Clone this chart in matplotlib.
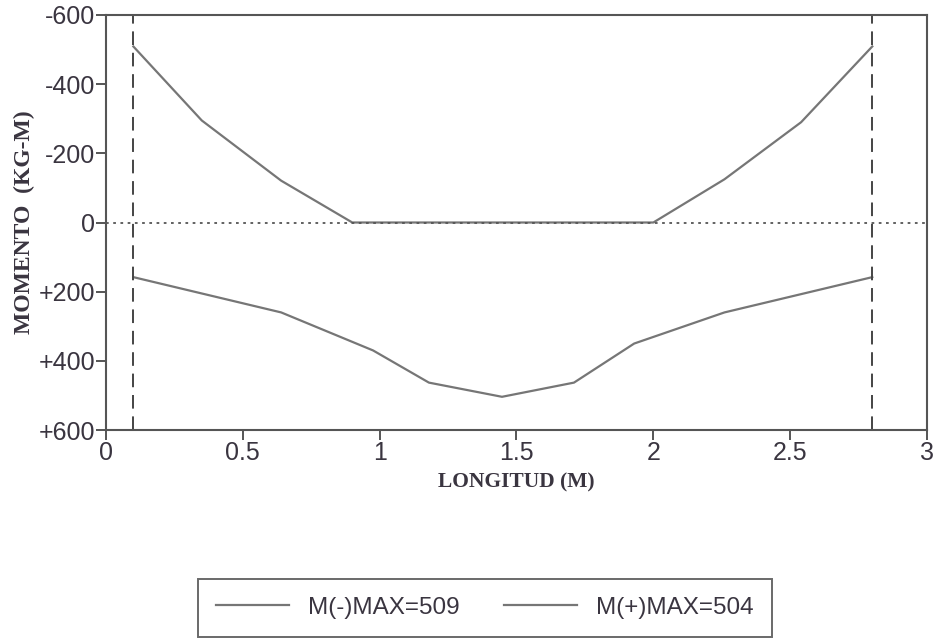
import matplotlib.pyplot as plt
from matplotlib.lines import Line2D

# momento negativo (arriba) y positivo (abajo), KG-M
x_neg = [0.1, 0.35, 0.64, 0.90, 2.00, 2.26, 2.54, 2.8]
m_neg = [-509, -295, -121, 0, 0, -125, -290, -509]

x_pos = [0.1, 0.64, 0.976, 1.18, 1.447, 1.71, 1.93, 2.26, 2.8]
m_pos = [158, 260, 370, 463, 504, 463, 350, 260, 158]

apoyos = [0.1, 2.8]
yticks = [-600, -400, -200, 0, 200, 400, 600]
ytick_labels = ['-600', '-400', '-200', '0', '+200', '+400', '+600']
xticks = [0, 0.5, 1, 1.5, 2, 2.5, 3]
xtick_labels = ['0', '0.5', '1', '1.5', '2', '2.5', '3']
labels = ['M(-)MAX=509', 'M(+)MAX=504']

line_c = '#767676'
ink = '#3a3540'

fig = plt.figure(figsize=(9.37, 6.39), dpi=100)
ax = fig.add_axes([106/937, 1-430/639, 821/937, 415/639])

ax.plot(x_neg, m_neg, color=line_c, lw=1.6)
ax.plot(x_pos, m_pos, color=line_c, lw=1.6)
ax.axhline(0, color='#555555', lw=1.3, ls=(0, (1.5, 2.5)))
for a in apoyos:
    ax.axvline(a, color='#444444', lw=1.4, ls=(0, (7, 4)))

ax.set_xlim(0, 3)
ax.set_ylim(600, -600)
ax.set_xticks(xticks)
ax.set_xticklabels(xtick_labels)
ax.set_yticks(yticks)
ax.set_yticklabels(ytick_labels)

for s in ax.spines.values():
    s.set_color('#555555')
    s.set_linewidth(1.5)
ax.tick_params(direction='out', length=7, width=1.4, color='#555555',
               labelsize=18, labelcolor=ink, pad=1)
for t in ax.get_xticklabels() + ax.get_yticklabels():
    t.set_family('Liberation Sans')

ax.set_xlabel('LONGITUD (M)', family='Liberation Serif', fontweight='bold',
              fontsize=15.5, color=ink, labelpad=5)
ax.set_ylabel('MOMENTO  (KG-M)', family='Liberation Serif', fontweight='bold',
              fontsize=17, color=ink, labelpad=2)

handles = [Line2D([], [], color=line_c, lw=1.6), Line2D([], [], color=line_c, lw=1.6)]
leg = fig.legend(handles, labels, loc='lower center', bbox_to_anchor=(485/937, -0.016),
                 ncol=2, frameon=True, fancybox=False, edgecolor='#444444',
                 handlelength=3.0, columnspacing=1.8, borderpad=0.75, handletextpad=0.8,
                 prop={'family': 'Liberation Sans', 'size': 17.5})
leg.get_frame().set_linewidth(1.4)
for t in leg.get_texts():
    t.set_color(ink)

fig.savefig('out.png', dpi=100)
